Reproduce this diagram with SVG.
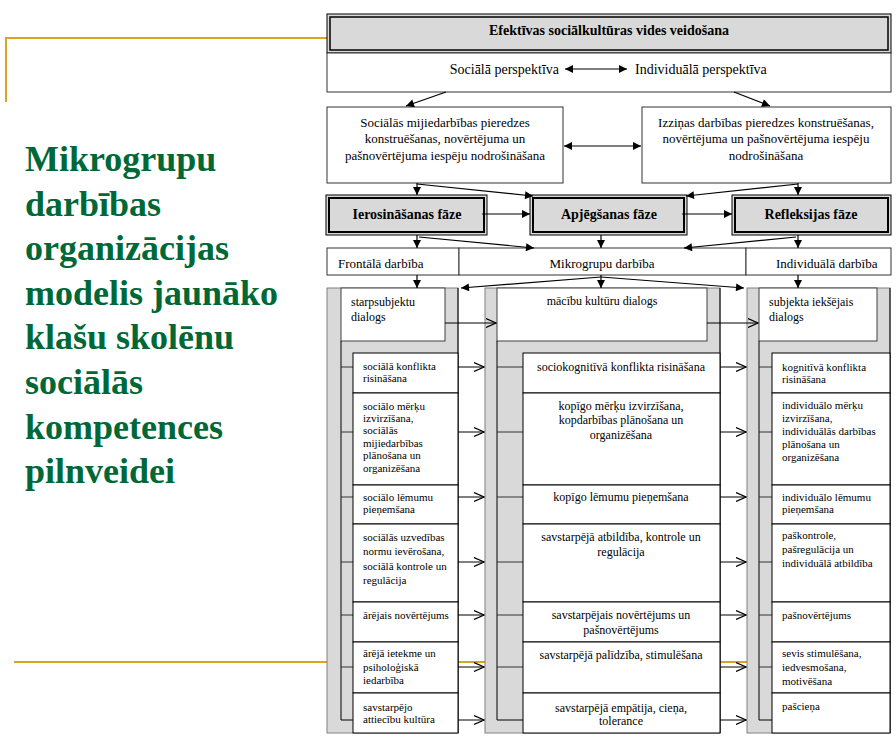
<svg xmlns="http://www.w3.org/2000/svg" width="896" height="745" viewBox="0 0 896 745">
<style>
.t{font-family:"Liberation Serif","Times New Roman",serif;fill:#000}
.b{font-weight:bold}
.s11{font-size:11px}
.s12{font-size:12px}
.s13{font-size:13px}
.s14{font-size:14px}
.mid{text-anchor:middle}
.end{text-anchor:end}
.box{fill:#fff;stroke:#333;stroke-width:1}
.gbox{fill:#d9d9d9;stroke:#000;stroke-width:1}
.panel{fill:#d9d9d9;stroke:#808080;stroke-width:1}
.dlg{fill:#fff;stroke:#404040;stroke-width:1}
.item{fill:#fff;stroke:#000;stroke-width:1}
.ln{stroke:#000;stroke-width:1;fill:none}
.tick{stroke:#333;stroke-width:1;fill:none}
.ar{stroke:#000;stroke-width:1.2;fill:none;marker-end:url(#ah)}
.oa{stroke:#000;stroke-width:1;fill:none;marker-end:url(#oh)}
.gold{stroke:#D9A520;stroke-width:2;fill:none}
.green{font-family:"Liberation Serif","Times New Roman",serif;font-weight:bold;font-size:36px;fill:#006837}
</style>
<defs>
<marker id="ah" viewBox="0 0 10 10" refX="10" refY="5" markerWidth="9" markerHeight="8" markerUnits="userSpaceOnUse" orient="auto-start-reverse"><path d="M0,0 L10,5 L0,10 z" fill="#000"/></marker>
<marker id="oh" viewBox="0 0 10 10" refX="10" refY="5" markerWidth="11" markerHeight="10" markerUnits="userSpaceOnUse" orient="auto"><path d="M0,0.5 L10,5 L0,9.5" fill="none" stroke="#000" stroke-width="1.2"/></marker>
</defs>
<rect width="896" height="745" fill="#fff"/>

<g id="decor">
<path class="gold" d="M6,102 V38 H327"/>
<path class="gold" d="M14,662 H890"/>
</g>

<g id="heading">
<text class="green" x="25" y="171">Mikrogrupu</text>
<text class="green" x="25" y="216">darbības</text>
<text class="green" x="25" y="260">organizācijas</text>
<text class="green" x="25" y="305">modelis jaunāko</text>
<text class="green" x="25" y="349">klašu skolēnu</text>
<text class="green" x="25" y="394">sociālās</text>
<text class="green" x="25" y="439">kompetences</text>
<text class="green" x="25" y="483">pilnveidei</text>
</g>

<g id="title">
<rect class="gbox" x="327" y="14" width="564" height="39"/>
<rect x="330" y="17" width="558" height="33" fill="none" stroke="#000" stroke-width="1.5"/>
<text class="t b s14 mid" x="609" y="35">Efektīvas sociālkultūras vides veidošana</text>
</g>

<g id="perspective">
<rect class="box" x="327" y="53" width="564" height="39"/>
<text class="t s14 end" x="559" y="74">Sociālā perspektīva</text>
<text class="t s14" x="635" y="74">Individuālā perspektīva</text>
</g>

<g id="social-experience">
<rect class="box" x="327" y="107" width="236" height="76"/>
<text class="t s13 mid" x="445" y="127">Sociālās mijiedarbības pieredzes</text>
<text class="t s13 mid" x="445" y="143">konstruēšanas,  novērtējuma un</text>
<text class="t s13 mid" x="445" y="160">pašnovērtējuma iespēju nodrošināšana</text>
</g>

<g id="cognitive-experience">
<rect class="box" x="642" y="107" width="249" height="76"/>
<text class="t s13 mid" x="766" y="127">Izziņas darbības pieredzes  konstruēšanas,</text>
<text class="t s13 mid" x="766" y="143">novērtējuma un pašnovērtējuma iespēju</text>
<text class="t s13 mid" x="766" y="160">nodrošināšana</text>
</g>

<g id="phase-1">
<rect class="gbox" x="326" y="195" width="161" height="40"/>
<rect x="329" y="198" width="155" height="34" fill="none" stroke="#000" stroke-width="2"/>
<text class="t b s14 mid" x="407" y="219">Ierosināšanas fāze</text>
</g>
<g id="phase-2">
<rect class="gbox" x="530" y="195" width="157" height="40"/>
<rect x="533" y="198" width="151" height="34" fill="none" stroke="#000" stroke-width="2"/>
<text class="t b s14 mid" x="609" y="219">Apjēgšanas fāze</text>
</g>
<g id="phase-3">
<rect class="gbox" x="732" y="195" width="159" height="40"/>
<rect x="735" y="198" width="153" height="34" fill="none" stroke="#000" stroke-width="2"/>
<text class="t b s14 mid" x="811" y="219">Refleksijas fāze</text>
</g>

<g id="activity-row">
<rect class="box" x="327" y="248" width="132" height="27"/>
<rect class="box" x="459" y="248" width="287" height="27"/>
<rect class="box" x="746" y="248" width="145" height="27"/>
<text class="t s13" x="338" y="268">Frontālā darbība</text>
<text class="t s13 mid" x="602" y="268">Mikrogrupu darbība</text>
<text class="t s13" x="776" y="268">Individuālā darbība</text>
</g>

<g id="column-frontal">
<rect class="panel" x="327" y="288" width="131" height="445"/>
<line class="ln" x1="458" y1="288" x2="458" y2="733"/>
<rect class="dlg" x="341" y="288" width="104" height="53"/>
<path class="ln" d="M341,341 V720 H353"/>
<path class="tick" d="M341,367 H353 M341,432 H353 M341,497 H353 M341,562 H353 M341,615 H353 M341,667 H353"/>
<rect class="item" x="353" y="353" width="105" height="40"/>
<rect class="item" x="353" y="393" width="105" height="92"/>
<rect class="item" x="353" y="485" width="105" height="39"/>
<rect class="item" x="353" y="524" width="105" height="78"/>
<rect class="item" x="353" y="602" width="105" height="40"/>
<rect class="item" x="353" y="642" width="105" height="51"/>
<rect class="item" x="353" y="693" width="105" height="40"/>
<text class="t s12" x="351" y="306">starpsubjektu</text>
<text class="t s12" x="351" y="321">dialogs</text>
<text class="t s11" x="363" y="370">sociālā  konflikta</text>
<text class="t s11" x="363" y="382">risināšana</text>
<text class="t s11" x="363" y="410">sociālo mērķu</text>
<text class="t s11" x="363" y="422">izvirzīšana,</text>
<text class="t s11" x="363" y="434">sociālās</text>
<text class="t s11" x="363" y="447">mijiedarbības</text>
<text class="t s11" x="363" y="459">plānošana un</text>
<text class="t s11" x="363" y="472">organizēšana</text>
<text class="t s11" x="363" y="501">sociālo lēmumu</text>
<text class="t s11" x="363" y="513">pieņemšana</text>
<text class="t s11" x="363" y="541">sociālās uzvedības</text>
<text class="t s11" x="363" y="555">normu ievērošana,</text>
<text class="t s11" x="363" y="570">sociālā kontrole un</text>
<text class="t s11" x="363" y="584">regulācija</text>
<text class="t s11" x="363" y="619">ārējais novērtējums</text>
<text class="t s11" x="363" y="657">ārējā ietekme un</text>
<text class="t s11" x="363" y="671">psiholoģiskā</text>
<text class="t s11" x="363" y="684">iedarbība</text>
<text class="t s11" x="363" y="711">savstarpējo</text>
<text class="t s11" x="363" y="723">attiecību kultūra</text>
</g>

<g id="column-microgroup">
<rect class="panel" x="485" y="288" width="235" height="445"/>
<line class="ln" x1="720" y1="288" x2="720" y2="733"/>
<rect class="dlg" x="497" y="288" width="210" height="53"/>
<path class="ln" d="M497,341 V720 H523"/>
<path class="tick" d="M497,367 H523 M497,432 H523 M497,497 H523 M497,562 H523 M497,615 H523 M497,667 H523"/>
<rect class="item" x="523" y="353" width="197" height="40"/>
<rect class="item" x="523" y="393" width="197" height="92"/>
<rect class="item" x="523" y="485" width="197" height="39"/>
<rect class="item" x="523" y="524" width="197" height="78"/>
<rect class="item" x="523" y="602" width="197" height="40"/>
<rect class="item" x="523" y="642" width="197" height="51"/>
<rect class="item" x="523" y="693" width="197" height="40"/>
<text class="t s12 mid" x="602" y="305">mācību kultūru dialogs</text>
<text class="t s12 mid" x="621" y="371">sociokognitīvā konflikta risināšana</text>
<text class="t s12 mid" x="621" y="410">kopīgo mērķu izvirzīšana,</text>
<text class="t s12 mid" x="621" y="424">kopdarbības plānošana un</text>
<text class="t s12 mid" x="621" y="439">organizēšana</text>
<text class="t s12 mid" x="621" y="501">kopīgo lēmumu pieņemšana</text>
<text class="t s12 mid" x="621" y="541">savstarpējā atbildība, kontrole un</text>
<text class="t s12 mid" x="621" y="556">regulācija</text>
<text class="t s12 mid" x="621" y="619">savstarpējais novērtējums un</text>
<text class="t s12 mid" x="621" y="634">pašnovērtējums</text>
<text class="t s12 mid" x="621" y="659">savstarpējā palīdzība, stimulēšana</text>
<text class="t s12 mid" x="621" y="712">savstarpējā empātija, cieņa,</text>
<text class="t s12 mid" x="621" y="725">tolerance</text>
</g>

<g id="column-individual">
<rect class="panel" x="747" y="288" width="143" height="445"/>
<line class="ln" x1="890" y1="288" x2="890" y2="733"/>
<rect class="dlg" x="759" y="288" width="118" height="53"/>
<path class="ln" d="M759,341 V720 H772"/>
<path class="tick" d="M759,367 H772 M759,432 H772 M759,497 H772 M759,562 H772 M759,615 H772 M759,667 H772"/>
<rect class="item" x="772" y="353" width="118" height="40"/>
<rect class="item" x="772" y="393" width="118" height="92"/>
<rect class="item" x="772" y="485" width="118" height="39"/>
<rect class="item" x="772" y="524" width="118" height="78"/>
<rect class="item" x="772" y="602" width="118" height="40"/>
<rect class="item" x="772" y="642" width="118" height="51"/>
<rect class="item" x="772" y="693" width="118" height="40"/>
<text class="t s12" x="769" y="306">subjekta iekšējais</text>
<text class="t s12" x="769" y="321">dialogs</text>
<text class="t s11" x="782" y="371">kognitīvā konflikta</text>
<text class="t s11" x="782" y="383">risināšana</text>
<text class="t s11" x="782" y="409">individuālo mērķu</text>
<text class="t s11" x="782" y="422">izvirzīšana,</text>
<text class="t s11" x="782" y="435">individuālās darbības</text>
<text class="t s11" x="782" y="448">plānošana un</text>
<text class="t s11" x="782" y="461">organizēšana</text>
<text class="t s11" x="782" y="501">individuālo lēmumu</text>
<text class="t s11" x="782" y="513">pieņemšana</text>
<text class="t s11" x="782" y="539">paškontrole,</text>
<text class="t s11" x="782" y="553">pašregulācija un</text>
<text class="t s11" x="782" y="567">individuālā atbildība</text>
<text class="t s11" x="782" y="619">pašnovērtējums</text>
<text class="t s11" x="782" y="657">sevis stimulēšana,</text>
<text class="t s11" x="782" y="671">iedvesmošana,</text>
<text class="t s11" x="782" y="685">motivēšana</text>
<text class="t s11" x="782" y="710">pašcieņa</text>
</g>

<g id="connectors">
<line class="ar" x1="565" y1="69" x2="627" y2="69" marker-start="url(#ah)"/>
<line class="ar" x1="446" y1="92" x2="406" y2="106"/>
<line class="ar" x1="734" y1="92" x2="770" y2="106"/>
<line class="ar" x1="564" y1="146" x2="641" y2="146" marker-start="url(#ah)"/>
<line class="ar" x1="417" y1="183" x2="417" y2="195"/>
<line class="ar" x1="417" y1="184" x2="533" y2="196"/>
<line class="ar" x1="798" y1="183" x2="798" y2="195"/>
<line class="ar" x1="798" y1="184" x2="686" y2="196"/>
<line class="ar" x1="482" y1="214" x2="530" y2="214"/>
<line class="ar" x1="682" y1="214" x2="732" y2="214"/>
<line class="ar" x1="417" y1="235" x2="417" y2="248"/>
<line class="ar" x1="601" y1="235" x2="601" y2="248"/>
<line class="ar" x1="798" y1="235" x2="798" y2="248"/>
<line class="ar" x1="419" y1="237" x2="534" y2="248"/>
<line class="ar" x1="796" y1="237" x2="684" y2="248"/>
<line class="ar" x1="417" y1="275" x2="417" y2="288"/>
<line class="ar" x1="601" y1="275" x2="601" y2="288"/>
<line class="ar" x1="798" y1="275" x2="798" y2="288"/>
<line class="ar" x1="601" y1="277" x2="461" y2="288"/>
<line class="ar" x1="601" y1="277" x2="744" y2="288"/>
<line class="oa" x1="445" y1="323" x2="496" y2="323" stroke-width="1.5" stroke="#333"/>
<line class="oa" x1="707" y1="323" x2="758" y2="323"/>
<path class="oa" d="M458,367 H484"/>
<path class="oa" d="M458,432 H484"/>
<path class="oa" d="M458,497 H484"/>
<path class="oa" d="M458,562 H484"/>
<path class="oa" d="M458,615 H484"/>
<path class="oa" d="M458,667 H484"/>
<path class="oa" d="M458,720 H484"/>
<path class="oa" d="M720,367 H746"/>
<path class="oa" d="M720,432 H746"/>
<path class="oa" d="M720,497 H746"/>
<path class="oa" d="M720,562 H746"/>
<path class="oa" d="M720,615 H746"/>
<path class="oa" d="M720,667 H746"/>
<path class="oa" d="M720,720 H746"/>
</g>
</svg>
